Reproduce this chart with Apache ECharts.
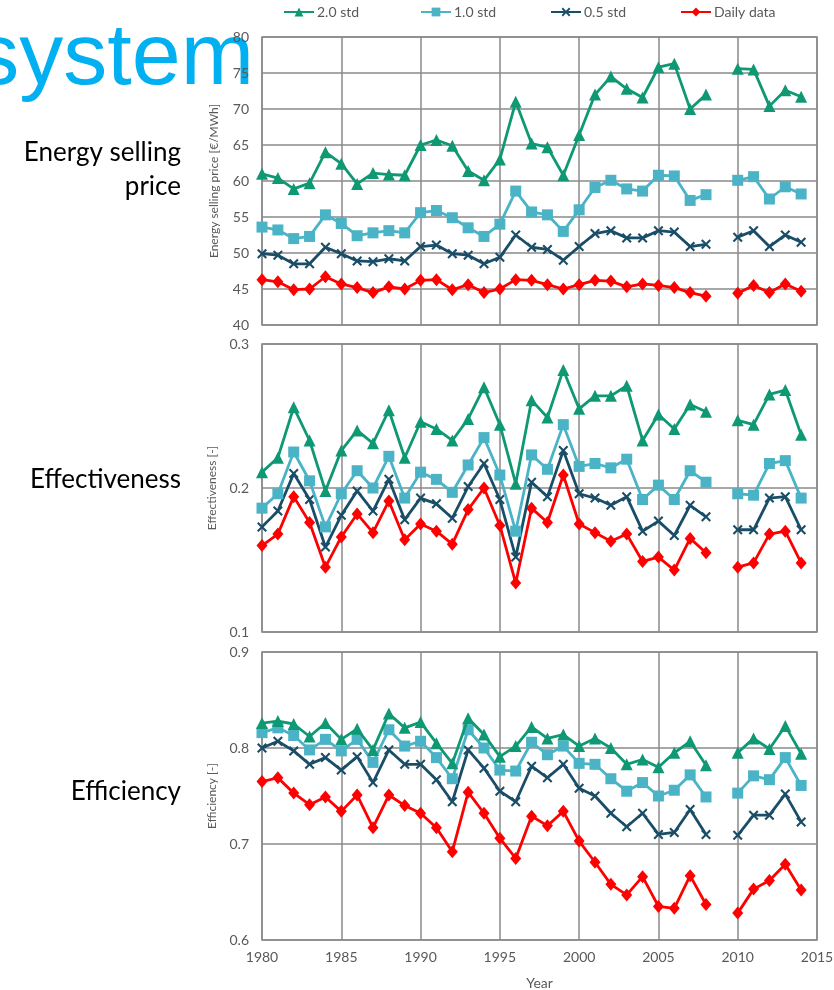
<!DOCTYPE html>
<html><head><meta charset="utf-8">
<script src="https://cdn.jsdelivr.net/npm/echarts@6/dist/echarts.min.js"></script>
<style>html,body{margin:0;padding:0;background:#fff}#c{width:834px;height:990px}</style>
</head><body><div id="c"></div>
<script>
const years = [1980,1981,1982,1983,1984,1985,1986,1987,1988,1989,1990,1991,1992,1993,1994,1995,1996,1997,1998,1999,2000,2001,2002,2003,2004,2005,2006,2007,2008,2009,2010,2011,2012,2013,2014];
const seriesNames = ['2.0 std','1.0 std','0.5 std','Daily data'];

const priceStd20 = [61.0,60.4,58.9,59.7,64.0,62.4,59.6,61.1,60.9,60.8,65.0,65.7,64.9,61.4,60.1,63.0,71.0,65.2,64.7,60.8,66.4,72.0,74.5,72.8,71.6,75.8,76.3,70.0,72.0,null,75.6,75.5,70.4,72.6,71.7];
const priceStd10 = [53.6,53.2,52.0,52.3,55.3,54.1,52.4,52.8,53.1,52.8,55.6,55.9,54.9,53.5,52.3,54.0,58.6,55.7,55.3,53.0,56.0,59.1,60.1,58.9,58.6,60.8,60.7,57.3,58.1,null,60.1,60.6,57.5,59.2,58.2];
const priceStd05 = [49.9,49.7,48.5,48.5,50.8,49.9,48.9,48.8,49.2,48.9,50.9,51.1,49.9,49.7,48.5,49.4,52.5,50.8,50.5,49.0,50.9,52.7,53.1,52.1,52.1,53.1,52.9,50.9,51.2,null,52.2,53.1,50.9,52.5,51.5];
const priceDaily = [46.3,46.0,44.9,45.0,46.7,45.7,45.2,44.5,45.3,45.0,46.2,46.3,44.9,45.6,44.5,45.0,46.3,46.2,45.6,45.0,45.6,46.2,46.1,45.3,45.7,45.5,45.2,44.5,44.0,null,44.4,45.5,44.5,45.7,44.7];

const effStd20 = [0.211,0.221,0.256,0.233,0.198,0.226,0.240,0.231,0.254,0.221,0.246,0.241,0.233,0.248,0.270,0.244,0.203,0.261,0.249,0.282,0.255,0.264,0.264,0.271,0.233,0.251,0.241,0.258,0.253,null,0.247,0.244,0.265,0.268,0.237];
const effStd10 = [0.186,0.196,0.225,0.205,0.173,0.196,0.212,0.200,0.222,0.193,0.211,0.206,0.197,0.216,0.235,0.209,0.170,0.223,0.213,0.244,0.215,0.217,0.214,0.220,0.192,0.202,0.192,0.212,0.204,null,0.196,0.195,0.217,0.219,0.193];
const effStd05 = [0.173,0.184,0.210,0.192,0.159,0.181,0.198,0.184,0.206,0.178,0.193,0.189,0.179,0.201,0.217,0.192,0.152,0.204,0.194,0.226,0.196,0.193,0.188,0.194,0.170,0.177,0.167,0.188,0.180,null,0.171,0.171,0.193,0.194,0.171];
const effDaily = [0.160,0.168,0.194,0.176,0.145,0.166,0.182,0.169,0.191,0.164,0.175,0.170,0.161,0.185,0.200,0.174,0.134,0.186,0.176,0.209,0.175,0.169,0.163,0.168,0.149,0.152,0.143,0.165,0.155,null,0.145,0.148,0.168,0.170,0.148];

const efcStd20 = [0.826,0.828,0.825,0.812,0.826,0.809,0.820,0.798,0.836,0.821,0.827,0.805,0.784,0.831,0.814,0.791,0.802,0.822,0.810,0.814,0.802,0.810,0.800,0.783,0.788,0.780,0.795,0.807,0.782,null,0.795,0.810,0.799,0.823,0.794];
const efcStd10 = [0.816,0.821,0.813,0.798,0.809,0.797,0.809,0.785,0.819,0.802,0.807,0.790,0.768,0.819,0.800,0.777,0.776,0.806,0.793,0.802,0.784,0.783,0.768,0.755,0.764,0.750,0.756,0.772,0.749,null,0.753,0.771,0.767,0.790,0.761];
const efcStd05 = [0.800,0.807,0.797,0.783,0.790,0.777,0.791,0.764,0.798,0.783,0.783,0.767,0.744,0.798,0.779,0.755,0.744,0.781,0.769,0.783,0.758,0.750,0.732,0.718,0.732,0.710,0.712,0.736,0.710,null,0.709,0.730,0.730,0.752,0.723];
const efcDaily = [0.765,0.769,0.753,0.741,0.749,0.734,0.751,0.717,0.751,0.740,0.732,0.717,0.692,0.754,0.732,0.706,0.685,0.729,0.719,0.734,0.703,0.681,0.658,0.647,0.666,0.635,0.633,0.667,0.637,null,0.628,0.653,0.662,0.679,0.652];

const yRanges = [[40,80,5],[0.1,0.3,0.1],[0.6,0.9,0.1]];
const yNames = ['Energy selling price [€/MWh]','Effectiveness [-]','Efficiency [-]'];
const rowLabels = [['Energy selling','price'],['Effectiveness'],['Efficiency']];
const xRange = [1980,2015,5];

const colors = ['#0E9873','#4BB3C6','#1A4E68','#FF0000'];
const crossPath = 'path://M0,1.5 L1.5,0 L5,3.5 L8.5,0 L10,1.5 L6.5,5 L10,8.5 L8.5,10 L5,6.5 L1.5,10 L0,8.5 L3.5,5 Z';
const symbols = ['triangle','rect',crossPath,'diamond'];
const symbolSizes = [12,11,10,[11,13]];

const panels = [
  [priceStd20,priceStd10,priceStd05,priceDaily],
  [effStd20,effStd10,effStd05,effDaily],
  [efcStd20,efcStd10,efcStd05,efcDaily]
];

const gridTops = [37,344,652];
const gridH = 288;
const gray = '#595959';
const lineGray = '#8a8a8a';
const font = 'Lato';

const grids = gridTops.map(t => ({left:262,right:17,top:t,height:gridH,show:true,borderColor:lineGray,borderWidth:1.5,outerBoundsMode:'none',containLabel:false}));
const xAxes = gridTops.map((t,i) => ({
  type:'value',gridIndex:i,min:xRange[0],max:xRange[1],interval:xRange[2],
  axisLine:{show:false},axisTick:{show:false},
  splitLine:{show:true,lineStyle:{color:lineGray,width:1.5}},
  axisLabel:{show:i===2,color:gray,fontSize:14,fontFamily:font,margin:10,formatter:v=>String(v)},
  name:i===2?'Year':'',nameLocation:'middle',nameGap:36,
  nameTextStyle:{color:gray,fontSize:14,fontFamily:font}
}));
const yAxes = yRanges.map((r,i) => ({
  type:'value',gridIndex:i,min:r[0],max:r[1],interval:r[2],
  axisLine:{show:false},axisTick:{show:false},
  splitLine:{show:true,lineStyle:{color:lineGray,width:1.5}},
  axisLabel:{color:gray,fontSize:14,fontFamily:font,margin:13,
    formatter:v => i===0 ? String(v) : v.toFixed(1)},
  name:yNames[i],nameLocation:'middle',nameGap:42,nameRotate:90,
  nameTextStyle:{color:gray,fontSize:12,fontFamily:font}
}));

const series = [];
panels.forEach((arrs,p) => {
  arrs.forEach((arr,s) => {
    series.push({
      type:'line',name:seriesNames[s],xAxisIndex:p,yAxisIndex:p,
      data:years.map((y,k)=>[y,arr[k]]),
      connectNulls:false,
      symbol:symbols[s],symbolSize:symbolSizes[s],showAllSymbol:true,
      lineStyle:{color:colors[s],width:2.8},
      itemStyle:{color:colors[s]},
      z:10-s,
      animation:false
    });
  });
});

const legendLefts = [283,420,550,680];
const legends = seriesNames.map((n,i)=>({
  data:[n],left:legendLefts[i],top:5,padding:0,itemWidth:30,itemHeight:11,itemGap:0,
  textStyle:{color:gray,fontSize:14,fontFamily:font,padding:[0,0,0,-2]}
}));

const graphics = [{
  type:'text',x:254,y:60,z:0,
  style:{text:'system',fontSize:88,fontFamily:'Liberation Sans',fill:'#00B0F0',align:'right',verticalAlign:'middle'}
}];
const rowY = [[153,187],[480],[792]];
rowLabels.forEach((lines,i)=>{
  lines.forEach((t,j)=>{
    graphics.push({type:'text',x:181,y:rowY[i][j],
      style:{text:t,fontSize:26,fontFamily:font,fill:'#000',align:'right',verticalAlign:'middle'}});
  });
});

const chart = echarts.init(document.getElementById('c'),null,{renderer:'canvas'});
chart.setOption({
  animation:false,
  backgroundColor:'#fff',
  legend:legends,
  grid:grids,xAxis:xAxes,yAxis:yAxes,series,graphic:graphics
});
</script></body></html>
